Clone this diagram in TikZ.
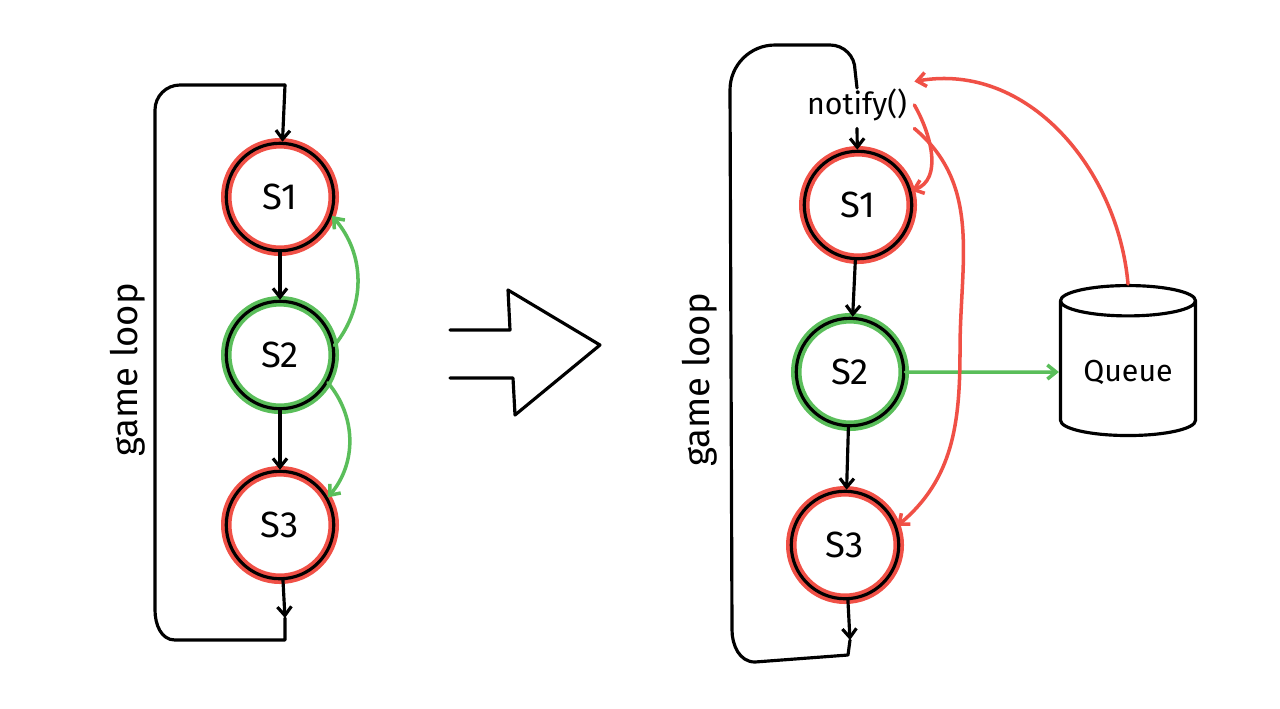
\documentclass[tikz,border=0pt]{standalone}
\usepackage{fontspec}
\setmainfont{Fira Sans}
\usetikzlibrary{arrows.meta,shapes.geometric,positioning}
\definecolor{sred}{RGB}{240,80,70}
\definecolor{sgreen}{RGB}{90,190,90}
\begin{document}
\begin{tikzpicture}[x=0.02cm,y=-0.02cm,line width=1.8pt,line cap=round,line join=round,
	>={Straight Barb[length=5pt,width=8pt]}]
	\tikzset{state/.style={circle,draw=black,minimum size=2.15cm,font=\huge,preaction={draw=#1,line width=6pt}},
	  edge/.style={->,black},
	  cue/.style={->,#1,line width=2pt}}
	\useasboundingbox[fill=white] (0,0) rectangle (1280,708);
	% left picture
	\node[state=sred]   (L1) at (280,197) {S1};
	\node[state=sgreen] (L2) at (280,355) {S2};
	\node[state=sred]   (L3) at (280,525) {S3};
	\coordinate (Ltop) at (285,85);
	\coordinate (Lbot) at (285,618);
	\draw[edge] (Ltop) -- (L1);
	\draw[edge] (L1) -- (L2);
	\draw[edge] (L2) -- (L3);
	\draw[edge] (L3) -- (Lbot);
	\draw (Lbot) -- (285,640) -- (175,640) to[out=180,in=-90] (155,610) -- (155,110) to[out=90,in=180] (180,85) -- (Ltop);
	\node[rotate=90,font=\huge] (Lgl) at (128,370) {game loop};
	\draw[cue=sgreen] (L2.10) to[bend right=40] (L1.-20);
	\draw[cue=sgreen] (L2.-30) to[bend left=40] (L3.30);
	% big arrow
	\draw (450,330) -- (510,330) -- (508,290) -- (600,345) -- (515,415) -- (513,378) -- (450,378);
	% right picture
	\node[font=\LARGE] (ntf) at (857,105) {notify()};
	\node[state=sred]   (R1) at (858,205) {S1};
	\node[state=sgreen] (R2) at (850,372) {S2};
	\node[state=sred]   (R3) at (845,545) {S3};
	\node[draw,cylinder,shape border rotate=90,aspect=0.3,minimum width=2.7cm,minimum height=3cm,font=\LARGE] (Q) at (1128,372) {Queue};
	\coordinate (Rtop) at (857,88);
	\coordinate (Rbot) at (850,640);
	\draw[edge] (ntf.south) -- (R1);
	\draw[edge] (R1) -- (R2);
	\draw[edge] (R2) -- (R3);
	\draw[edge] (R3) -- (Rbot);
	\draw (Rbot) -- (848,655) -- (755,662) to[out=180,in=-90] (732,630) -- (730,90) to[out=90,in=180] (775,45) -- (830,45) to[out=0,in=90] (855,70) -- (Rtop);
	\node[rotate=90,font=\huge] (Rgl) at (700,380) {game loop};
	\draw[cue=sgreen] (R2) -- (Q.west);
	\draw[cue=sred] (Q.north) to[out=95,in=10] (ntf.north east);
	\draw[cue=sred] (ntf.east) to[out=-60,in=20] (R1.15);
	\draw[cue=sred] (ntf.south east) to[out=-40,in=90] (960,350) to[out=-90,in=40] (R3.20);
\end{tikzpicture}
\end{document}
